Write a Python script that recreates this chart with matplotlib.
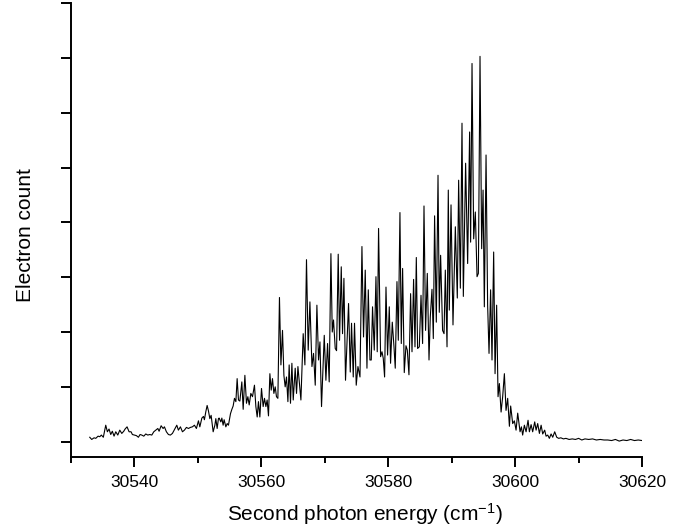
"""Photoelectron spectrum: electron count vs second photon energy."""

import matplotlib
matplotlib.use("Agg")
import matplotlib.pyplot as plt
from matplotlib.ticker import MultipleLocator, NullFormatter

# Scan points (cm^-1) and the electron count (arb. units)
energy = [
    30532.95, 30533.26, 30533.63, 30533.90, 30534.26, 30534.53, 30534.78, 30535.09,
    30535.47, 30535.73, 30535.99, 30536.26, 30536.51, 30536.78, 30537.05, 30537.37,
    30537.68, 30538.00, 30538.31, 30538.52, 30538.83, 30539.15, 30539.46, 30539.67,
    30539.98, 30540.30, 30540.62, 30540.88, 30541.15, 30541.47, 30541.78, 30542.10,
    30542.41, 30542.73, 30543.04, 30543.36, 30543.68, 30543.88, 30544.20, 30544.51,
    30544.72, 30545.03, 30545.35, 30545.66, 30545.98, 30546.40, 30546.67, 30546.92,
    30547.24, 30547.56, 30547.87, 30548.19, 30548.50, 30548.82, 30549.13, 30549.45,
    30549.76, 30550.08, 30550.30, 30550.62, 30550.87, 30551.02, 30551.25, 30551.45,
    30551.66, 30551.88, 30552.08, 30552.40, 30552.67, 30552.82, 30553.03, 30553.23,
    30553.34, 30553.61, 30553.77, 30553.97, 30554.13, 30554.40, 30554.61, 30554.81,
    30555.13, 30555.35, 30555.55, 30555.76, 30555.98, 30556.18, 30556.39, 30556.61,
    30556.92, 30557.13, 30557.40, 30557.65, 30557.87, 30558.08, 30558.34, 30558.60,
    30558.91, 30559.13, 30559.34, 30559.54, 30559.76, 30560.02, 30560.28, 30560.49,
    30560.71, 30560.91, 30561.12, 30561.34, 30561.55, 30561.75, 30561.97, 30562.18,
    30562.38, 30562.60, 30562.85, 30563.08, 30563.33, 30563.55, 30563.75, 30563.96,
    30564.18, 30564.38, 30564.59, 30564.81, 30565.02, 30565.33, 30565.54, 30565.76,
    30566.23, 30566.59, 30566.86, 30567.11, 30567.38, 30567.65, 30567.97, 30568.22,
    30568.49, 30568.75, 30569.01, 30569.23, 30569.48, 30569.91, 30570.17, 30570.43,
    30570.69, 30570.96, 30571.17, 30571.37, 30571.64, 30571.85, 30572.11, 30572.32,
    30572.59, 30572.79, 30573.01, 30573.26, 30573.74, 30574.01, 30574.21, 30574.48,
    30574.68, 30574.95, 30575.22, 30575.54, 30575.85, 30576.10, 30576.37, 30576.64,
    30576.85, 30577.11, 30577.32, 30577.52, 30577.79, 30578.06, 30578.26, 30578.47,
    30578.79, 30579.01, 30579.21, 30579.42, 30579.64, 30579.89, 30580.16, 30580.36,
    30580.63, 30580.90, 30581.10, 30581.37, 30581.58, 30581.84, 30582.05, 30582.26,
    30582.52, 30582.79, 30583.00, 30583.26, 30583.52, 30583.74, 30583.99, 30584.21,
    30584.42, 30584.62, 30584.89, 30585.16, 30585.41, 30585.63, 30585.88, 30586.15,
    30586.42, 30586.62, 30586.89, 30587.10, 30587.30, 30587.57, 30587.84, 30588.04,
    30588.25, 30588.56, 30588.79, 30588.99, 30589.26, 30589.46, 30589.62, 30589.89,
    30590.20, 30590.57, 30590.88, 30591.09, 30591.36, 30591.62, 30591.83, 30592.19,
    30592.51, 30592.82, 30592.98, 30593.20, 30593.46, 30593.72, 30593.99, 30594.20,
    30594.46, 30594.72, 30594.94, 30595.14, 30595.41, 30595.66, 30595.88, 30596.13,
    30596.35, 30596.61, 30596.83, 30597.08, 30597.30, 30597.51, 30597.78, 30598.03,
    30598.30, 30598.56, 30598.82, 30599.09, 30599.29, 30599.61, 30599.87, 30600.14,
    30600.40, 30600.77, 30600.98, 30601.18, 30601.45, 30601.72, 30602.03, 30602.24,
    30602.51, 30602.76, 30603.08, 30603.30, 30603.55, 30603.82, 30604.09, 30604.34,
    30604.65, 30604.87, 30605.13, 30605.39, 30605.66, 30605.92, 30606.23, 30606.55,
    30606.86, 30607.20, 30607.60, 30608.00, 30608.50, 30609.00, 30609.50, 30610.00,
    30610.50, 30611.00, 30611.60, 30612.20, 30612.80, 30613.40, 30614.00, 30614.60,
    30615.20, 30615.80, 30616.40, 30617.00, 30617.60, 30618.20, 30618.80, 30619.40,
    30620.00,
]
counts = [
    0.08, 0.04, 0.07, 0.06, 0.10, 0.09, 0.12, 0.08,
    0.30, 0.18, 0.23, 0.13, 0.19, 0.10, 0.18, 0.12,
    0.21, 0.15, 0.19, 0.23, 0.27, 0.18, 0.18, 0.13,
    0.12, 0.11, 0.08, 0.13, 0.12, 0.10, 0.14, 0.12,
    0.13, 0.12, 0.18, 0.21, 0.24, 0.19, 0.29, 0.24,
    0.27, 0.18, 0.13, 0.12, 0.15, 0.24, 0.30, 0.21,
    0.27, 0.18, 0.21, 0.26, 0.24, 0.26, 0.27, 0.30,
    0.24, 0.38, 0.27, 0.43, 0.46, 0.40, 0.55, 0.66,
    0.56, 0.42, 0.48, 0.18, 0.30, 0.42, 0.24, 0.42,
    0.43, 0.36, 0.43, 0.30, 0.40, 0.27, 0.33, 0.30,
    0.51, 0.59, 0.65, 0.79, 0.73, 1.15, 0.76, 0.74,
    1.09, 0.59, 1.21, 0.70, 0.82, 0.67, 0.88, 0.82,
    1.03, 0.64, 0.45, 0.73, 0.45, 0.97, 0.64, 0.79,
    0.64, 0.76, 0.47, 1.24, 0.94, 1.15, 0.88, 1.00,
    0.82, 0.79, 2.63, 1.40, 2.03, 1.21, 1.00, 1.18,
    0.73, 1.40, 0.70, 1.43, 0.76, 1.34, 0.88, 1.37,
    0.76, 1.97, 1.40, 3.32, 1.67, 2.55, 1.37, 1.61,
    1.03, 2.49, 1.49, 1.82, 0.64, 1.94, 1.12, 1.79,
    1.09, 3.43, 2.00, 2.22, 1.70, 1.66, 3.42, 1.85,
    3.19, 1.97, 2.98, 1.12, 2.52, 1.27, 2.16, 1.18,
    2.16, 1.03, 1.37, 1.18, 3.56, 1.91, 3.13, 1.34,
    2.77, 1.49, 1.49, 2.46, 1.67, 3.01, 1.64, 3.89,
    1.55, 1.64, 1.52, 1.18, 2.82, 1.58, 2.46, 1.43,
    2.18, 1.73, 1.34, 2.92, 1.85, 4.18, 1.79, 3.16,
    1.26, 1.75, 1.67, 1.22, 2.70, 1.64, 2.96, 1.73,
    3.36, 1.70, 1.73, 2.67, 1.79, 4.30, 2.03, 3.07,
    1.49, 2.27, 2.78, 1.88, 4.12, 2.18, 4.86, 2.36,
    3.40, 2.03, 1.97, 3.13, 1.73, 4.59, 2.40, 4.32,
    2.13, 3.92, 2.62, 4.77, 2.80, 5.81, 2.65, 5.08,
    3.25, 5.65, 3.64, 6.90, 3.70, 4.19, 3.01, 3.07,
    7.03, 3.52, 4.59, 2.46, 5.23, 2.49, 1.61, 2.77,
    1.49, 3.46, 1.24, 2.49, 0.82, 1.06, 0.54, 0.82,
    1.24, 0.57, 0.79, 0.28, 0.65, 0.33, 0.38, 0.21,
    0.52, 0.18, 0.27, 0.12, 0.30, 0.18, 0.39, 0.18,
    0.31, 0.18, 0.36, 0.21, 0.33, 0.15, 0.30, 0.14,
    0.21, 0.10, 0.12, 0.06, 0.14, 0.08, 0.18, 0.08,
    0.06, 0.07, 0.05, 0.06, 0.04, 0.05, 0.04, 0.06,
    0.03, 0.05, 0.04, 0.05, 0.03, 0.04, 0.03, 0.03,
    0.02, 0.04, 0.01, 0.03, 0.02, 0.04, 0.02, 0.03,
    0.02,
]

plt.rcParams['font.family'] = ['Liberation Sans', 'DejaVu Sans']
plt.rcParams['mathtext.default'] = 'regular'

fig = plt.figure(figsize=(6.93, 5.32), dpi=100)
ax = fig.add_axes([0.1025, 0.141, 0.824, 0.853])

ax.plot(energy, counts, color='black', linewidth=0.8)

ax.set_xlim(30530, 30620)
ax.set_ylim(-0.28, 8.0)

# Major ticks every 20 cm^-1, minor every 10; y ticks carry no labels
ax.xaxis.set_major_locator(MultipleLocator(20))
ax.xaxis.set_minor_locator(MultipleLocator(10))
ax.yaxis.set_major_locator(MultipleLocator(1))
ax.yaxis.set_major_formatter(NullFormatter())

ax.tick_params(axis='both', which='major', direction='out', length=7, width=1.4,
               labelsize=12.5, pad=6)
ax.tick_params(axis='x', which='minor', direction='out', length=4, width=1.4)

for side in ['top', 'right']:
    ax.spines[side].set_visible(False)
for side in ['left', 'bottom']:
    ax.spines[side].set_linewidth(1.4)

ax.set_xlabel('Second photon energy (cm$^{-1}$)', fontsize=15)
ax.xaxis.set_label_coords(0.515, -0.098)
ax.set_ylabel('Electron count', fontsize=15)
ax.yaxis.set_label_coords(-0.063, 0.49)

fig.savefig('out.png', dpi=100)
